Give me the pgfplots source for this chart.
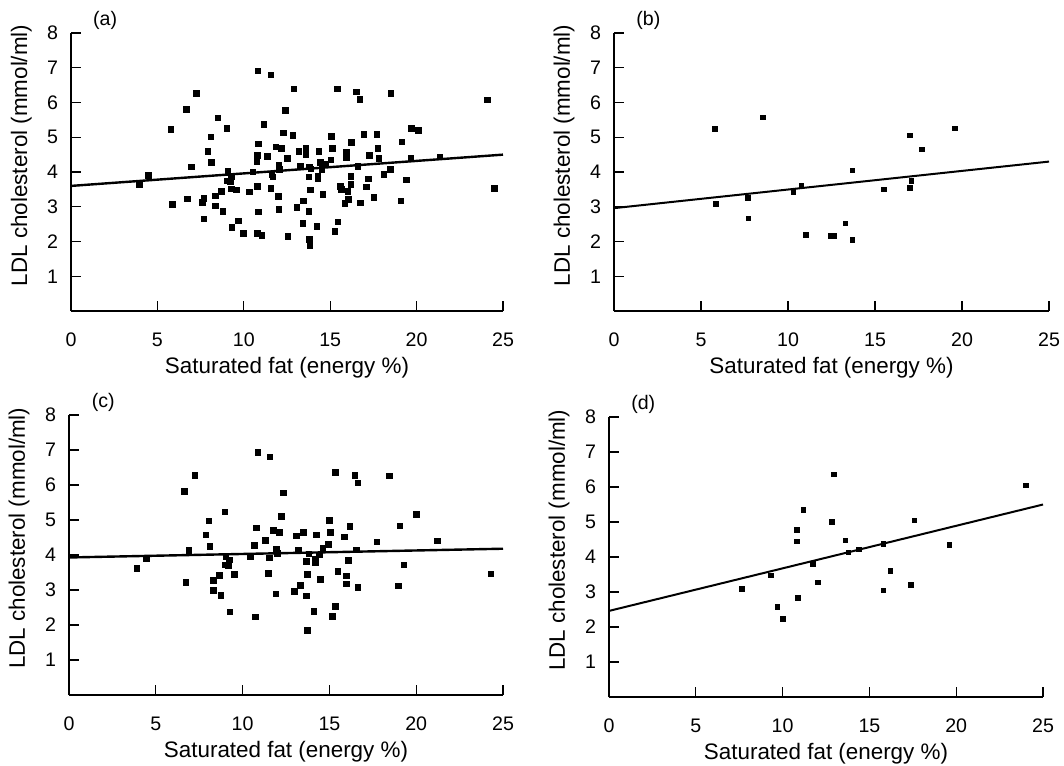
\documentclass[border=0pt]{standalone}
\usepackage{fontspec}
\setmainfont{Liberation Sans}
\usepackage{pgfplots}
\pgfplotsset{compat=1.18}

\pgfplotsset{
  ldl/.style={
    scale only axis, anchor=south west,
    xmin=0, xmax=25, ymin=0, ymax=8,
    axis lines=left, axis line style={-, line width=0.8pt},
    tick align=inside, major tick length=5pt,
    tick style={black, line width=0.6pt},
    xtick={0,5,...,25}, ytick={1,...,8},
    ticklabel style={font=\fontsize{9.8}{11}\selectfont},
    /pgf/number format/assume math mode=true,
    xticklabel style={yshift=-7.5pt},
    yticklabel style={xshift=-3pt},
    xlabel={Saturated fat (energy \%)},
    ylabel={LDL cholesterol (mmol/ml)},
    label style={font=\fontsize{11.2}{13}\selectfont},
    xlabel style={at={(axis description cs:0.5,0)}, anchor=north, yshift=-19.5pt},
    ylabel style={at={(axis description cs:-0.115,0.56)}, anchor=center},
    clip=false,
  },
  pts/.style={only marks, mark=square*, mark size=1.4pt, black},
  ptsmall/.style={only marks, mark=square*, mark size=1.15pt, black},
  fit/.style={black, line width=1.2pt},
}

\newcommand{\panel}[1]{\node[font=\fontsize{9.8}{11}\selectfont] at (axis description cs:0.079,1.045) {#1};}

\begin{document}
\begin{tikzpicture}
\useasboundingbox (0,0) rectangle (532pt,-382.5pt);

% (a)
\begin{axis}[ldl, at={(35.5pt,-155.5pt)}, width=216pt, height=139pt]
\addplot[pts] coordinates {
(7.27,6.27) (6.67,5.81) (12.42,5.78) (8.51,5.56) (5.79,5.23) (9.03,5.26) (11.17,5.37)
(12.29,5.13) (8.10,5.01) (10.86,4.81) (11.86,4.72) (12.17,4.68) (7.93,4.60) (10.78,4.47)
(11.36,4.45) (12.54,4.40) (8.14,4.27) (10.75,4.31) (12.02,4.21) (6.96,4.15) (9.07,4.01)
(10.53,4.00) (12.06,4.08) (4.49,3.91) (11.63,3.93) (11.69,3.86) (9.28,3.88) (9.03,3.75)
(9.22,3.73) (3.95,3.65) (10.78,3.58) (9.28,3.51) (9.57,3.48) (8.70,3.45) (10.32,3.43)
(11.56,3.52) (8.35,3.31) (12.00,3.30) (7.70,3.24) (7.60,3.12) (6.75,3.23) (5.87,3.07)
(8.35,3.02) (8.78,2.87) (10.84,2.85) (12.02,2.93) (7.70,2.65) (9.68,2.59) (9.32,2.41)
(9.99,2.24) (10.78,2.24) (11.05,2.17) (12.56,2.14) (10.82,6.91) (11.57,6.79)
(12.91,6.39) (15.41,6.39) (16.51,6.31) (16.71,6.09) (18.52,6.27) (24.11,6.07) (12.83,5.05)
(15.06,5.02) (16.94,5.08) (17.71,5.09) (19.71,5.26) (20.12,5.20) (16.22,4.85) (19.14,4.87)
(13.19,4.59) (13.60,4.68) (13.60,4.51) (14.35,4.60) (15.14,4.68) (15.93,4.56) (15.93,4.41)
(17.75,4.68) (17.26,4.47) (17.82,4.39) (15.05,4.35) (19.68,4.39) (21.35,4.44) (13.29,4.18)
(13.79,4.15) (13.89,4.09) (14.43,4.27) (14.74,4.22) (14.53,4.08) (16.61,4.17) (18.48,4.08)
(18.11,3.93) (13.77,3.86) (14.29,3.87) (14.28,3.80) (16.20,3.88) (17.21,3.80) (19.40,3.77)
(24.50,3.52) (13.85,3.48) (14.58,3.35) (15.59,3.58) (15.65,3.50) (16.20,3.65) (16.03,3.44)
(17.09,3.57) (16.07,3.22) (15.86,3.10) (16.74,3.11) (17.53,3.27) (19.08,3.17) (13.44,3.17)
(13.08,2.99) (13.77,2.87) (13.41,2.52) (14.22,2.43) (15.45,2.56) (15.28,2.29) (13.81,2.06)
(13.83,1.87)
};
\addplot[fit] coordinates {(0,3.6) (25,4.5)};
\panel{(a)}
\end{axis}

% (b)
\begin{axis}[ldl, at={(307pt,-155.5pt)}, width=217.5pt, height=139pt]
\addplot[ptsmall] coordinates {
(5.81,5.24) (8.55,5.57) (5.85,3.08) (7.69,3.25) (7.73,2.67) (10.32,3.42) (10.78,3.60)
(11.02,2.19) (12.45,2.16) (12.65,2.16) (13.3,2.52) (13.7,2.05) (13.7,4.05) (15.5,3.5)
(17.0,5.05) (17.0,3.55) (17.1,3.75) (17.7,4.65) (19.6,5.25)
};
\addplot[fit, line width=1pt] coordinates {(0,2.96) (25,4.3)};
\panel{(b)}
\end{axis}

% (c)
\begin{axis}[ldl, at={(34.5pt,-347.5pt)}, width=217pt, height=140pt]
\addplot[pts] coordinates {
(7.25,6.27) (6.64,5.81) (12.36,5.77) (10.88,6.93) (11.57,6.80) (8.98,5.23) (8.06,4.98)
(12.22,5.10) (10.81,4.78) (11.78,4.70) (12.11,4.65) (7.89,4.58) (8.12,4.25) (10.69,4.28)
(11.30,4.42) (11.96,4.18) (6.91,4.13) (12.01,4.04) (4.47,3.90) (9.04,3.95) (9.25,3.86)
(10.46,3.95) (11.53,3.92) (3.90,3.62) (8.98,3.72) (9.17,3.69) (9.52,3.44) (8.67,3.41)
(11.48,3.48) (8.33,3.27) (6.74,3.21) (8.33,2.99) (8.75,2.84) (11.92,2.89) (9.27,2.38)
(10.75,2.23)
(15.33,6.36) (16.47,6.28) (16.64,6.06) (18.44,6.26) (14.99,4.99) (20.02,5.16) (19.06,4.83)
(16.18,4.81) (13.09,4.55) (13.49,4.64) (14.26,4.58) (15.07,4.64) (15.85,4.52) (17.73,4.37)
(21.23,4.40) (14.95,4.31) (14.62,4.19) (13.20,4.15) (16.54,4.15) (13.83,4.03) (14.43,4.00)
(13.66,3.81) (14.20,3.88) (14.18,3.78) (16.10,3.84) (19.30,3.72) (24.31,3.46) (13.74,3.44)
(14.49,3.31) (15.49,3.54) (15.97,3.40) (15.99,3.17) (16.64,3.07) (18.96,3.12) (13.34,3.14)
(13.00,2.96) (13.66,2.83) (15.35,2.53) (14.10,2.39) (15.16,2.25) (13.74,1.84)
};
\addplot[fit] coordinates {(0,3.93) (25,4.18)};
\panel{(c)}
\end{axis}

% (d)
\begin{axis}[ldl, at={(304.5pt,-348.5pt)}, width=217pt, height=140pt]
\addplot[ptsmall] coordinates {
(12.94,6.36) (11.19,5.34) (12.83,5.01) (10.81,4.78) (10.81,4.45) (13.61,4.48) (13.79,4.13)
(11.73,3.81) (9.33,3.48) (12.02,3.27) (7.64,3.09) (10.89,2.84) (9.70,2.58) (10.02,2.23)
(14.4,4.22) (15.8,4.38) (16.2,3.6) (15.8,3.05) (17.4,3.2) (17.6,5.05) (19.6,4.35) (24.0,6.05)
};
\addplot[fit, line width=1pt] coordinates {(0,2.46) (25,5.5)};
\panel{(d)}
\end{axis}
\end{tikzpicture}
\end{document}
